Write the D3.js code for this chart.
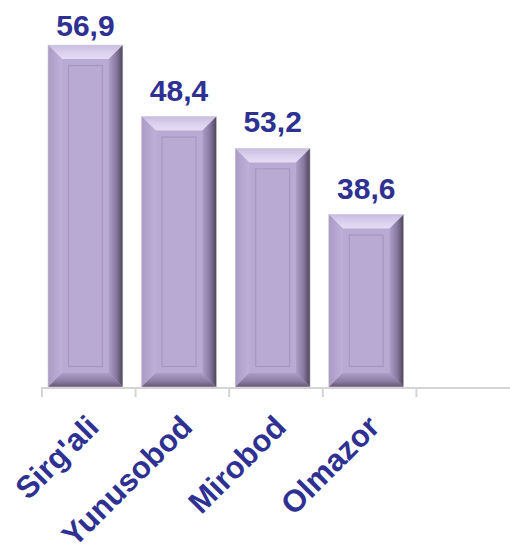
<!DOCTYPE html>
<html>
<head>
<meta charset="utf-8" />
<script src="https://cdn.jsdelivr.net/npm/d3@7"></script>
<style>
  body { margin: 0; background: #fff; }
  svg { display: block; }
  .val { font-family: "Liberation Sans", Arial, sans-serif; font-weight: bold; fill: #2E3192; }
  .cat { font-family: "Liberation Sans", Arial, sans-serif; font-weight: bold; fill: #2E3192; }
</style>
</head>
<body>
<svg id="chart"></svg>
<script>
// categories (last slot is empty in the original)
var categories = ["Sirg'ali", "Yunusobod", "Mirobod", "Olmazor", ""];
// bar heights as drawn
var barValues = [56.9, 45.0, 39.7, 28.7];
// labels printed over the bars
var valueLabels = ["56,9", "48,4", "53,2", "38,6"];

var width = 510, height = 549,
  axisY = 387,
  bev = 14;

var svg = d3.select("#chart")
  .attr("width", width)
  .attr("height", height);

var x = d3.scaleBand()
  .domain(categories)
  .range([42, 510])
  .padding(0);

var y = d3.scaleLinear()
  .domain([0, 60])
  .range([axisY, 26.4]);

var bw = x.bandwidth() * 0.8,
  off = x.bandwidth() * 0.064;

var defs = svg.append("defs");
function grad(id, x1, y1, x2, y2, stops) {
  var g = defs.append("linearGradient").attr("id", id)
    .attr("x1", x1).attr("y1", y1).attr("x2", x2).attr("y2", y2);
  stops.forEach(function(s) {
    g.append("stop").attr("offset", s[0]).attr("stop-color", s[1]);
  });
}
grad("gTop", 0, 0, 0, 1, [[0, "#C9BDDF"], [0.6, "#DDD3EF"], [1, "#E4DBF4"]]);
grad("gLeft", 0, 0, 1, 0, [[0, "#A99BC4"], [1, "#BEB0D9"]]);
grad("gRight", 0, 0, 1, 0, [[0, "#AC9EC7"], [0.55, "#85779D"], [1, "#4E4459"]]);
grad("gBot", 0, 0, 0, 1, [[0, "#AC9EC6"], [0.6, "#8A7CA1"], [1, "#62566F"]]);

var bars = svg.append("g").attr("class", "bars")
  .selectAll("g")
  .data(barValues)
  .enter().append("g");

function pts(a) { return a.map(function(p) { return p.join(","); }).join(" "); }

bars.each(function(d, i) {
  var g = d3.select(this),
    x0 = x(categories[i]) + off,
    x1 = x0 + bw,
    y0 = y(d),
    y1 = y(0);
  g.append("rect")
    .attr("x", x0).attr("y", y0)
    .attr("width", bw).attr("height", y1 - y0)
    .attr("fill", "#B9AAD4");
  g.append("polygon").attr("fill", "url(#gTop)")
    .attr("points", pts([[x0, y0], [x1, y0], [x1 - bev, y0 + bev], [x0 + bev, y0 + bev]]));
  g.append("polygon").attr("fill", "url(#gLeft)")
    .attr("points", pts([[x0, y0], [x0 + bev, y0 + bev], [x0 + bev, y1 - bev], [x0, y1]]));
  g.append("polygon").attr("fill", "url(#gRight)")
    .attr("points", pts([[x1, y0], [x1, y1], [x1 - bev, y1 - bev], [x1 - bev, y0 + bev]]));
  g.append("polygon").attr("fill", "url(#gBot)")
    .attr("points", pts([[x0, y1], [x1, y1], [x1 - bev, y1 - bev], [x0 + bev, y1 - bev]]));
  // inner panel outline
  g.append("rect")
    .attr("x", x0 + bev + 6.5).attr("y", y0 + bev + 6.5)
    .attr("width", bw - 2 * bev - 13).attr("height", Math.max(0, y1 - y0 - 2 * bev - 13))
    .attr("fill", "none")
    .attr("stroke", "#A597BF")
    .attr("stroke-width", 1.2);
  g.append("rect")
    .attr("x", x0).attr("y", y0)
    .attr("width", bw).attr("height", y1 - y0)
    .attr("fill", "none")
    .attr("stroke", "#d4d0dc")
    .attr("stroke-width", 0.6);

  g.append("text")
    .attr("class", "val")
    .attr("x", x0 + bw / 2)
    .attr("y", Math.max(y0 - 16, 36))
    .attr("text-anchor", "middle")
    .style("font-size", "30px")
    .text(valueLabels[i]);
});

// category axis
var axis = svg.append("g").attr("class", "axis");
axis.append("line")
  .attr("x1", 42).attr("x2", 510)
  .attr("y1", axisY + 1).attr("y2", axisY + 1)
  .attr("stroke", "#D4D4D4").attr("stroke-width", 2);
var edges = categories.map(function(c) { return x(c); });
axis.selectAll("line.tick")
  .data(edges)
  .enter().append("line")
  .attr("class", "tick")
  .attr("x1", function(d) { return d; }).attr("x2", function(d) { return d; })
  .attr("y1", axisY).attr("y2", axisY + 10)
  .attr("stroke", "#D4D4D4").attr("stroke-width", 2);

axis.selectAll("text")
  .data(categories.filter(function(c) { return c !== ""; }))
  .enter().append("text")
  .attr("class", "cat")
  .attr("text-anchor", "end")
  .attr("transform", function(d) {
    return "translate(" + (x(d) + x.bandwidth() / 2 - 4) + "," + 413 + ") rotate(-45)";
  })
  .attr("dy", "0.72em")
  .style("font-size", "31px")
  .text(function(d) { return d; });
</script>
</body>
</html>
